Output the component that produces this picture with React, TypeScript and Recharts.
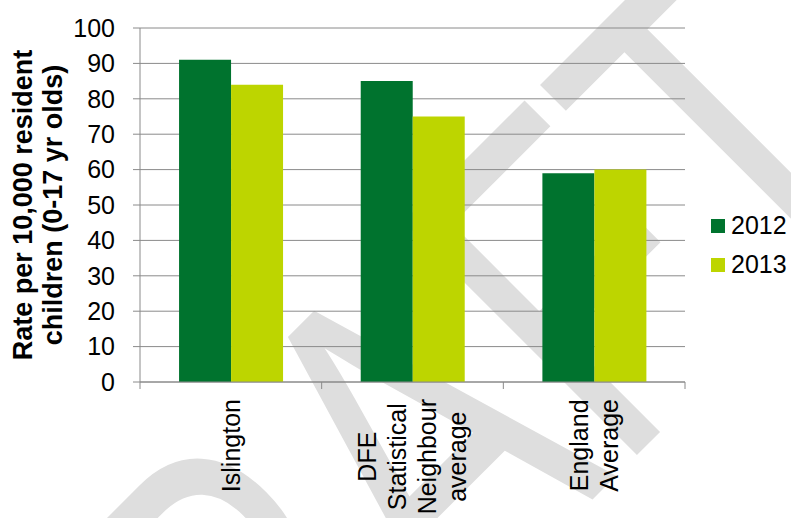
import React from "react";
import { BarChart, Bar, XAxis, YAxis, CartesianGrid, Legend } from "recharts";

const CATEGORIES = ["Islington", "DFE Statistical Neighbour average", "England Average"];
const LABEL_LINES = [["Islington"], ["DFE", "Statistical", "Neighbour", "average"], ["England", "Average"]];
const SERIES = ["2012", "2013"];
const VALUES_2012 = [91, 85, 59];
const VALUES_2013 = [84, 75, 60];
const Y_TICKS = [0, 10, 20, 30, 40, 50, 60, 70, 80, 90, 100];
const Y_LABEL = ["Rate per 10,000 resident", "children (0-17 yr olds)"];
const WATERMARK = "DRAFT";

const COLORS = ["#00732E", "#BDD500"];
const FONT = "'Liberation Sans', Arial, sans-serif";
const W = 791;
const H = 518;
const MARGIN = { top: 28, right: 106, bottom: 0, left: 0 };
const Y_AXIS_W = 140;
const X_AXIS_H = 136;
const AXIS_Y = H - X_AXIS_H;
const PLOT_W = W - MARGIN.left - MARGIN.right - Y_AXIS_W;
const GREY = "#8a8a8a";

const data = CATEGORIES.map((c, i) => ({
  name: c,
  "2012": VALUES_2012[i],
  "2013": VALUES_2013[i],
}));

let ctx: CanvasRenderingContext2D | null = null;
function textWidth(s: string, size: number) {
  if (!ctx) ctx = document.createElement("canvas").getContext("2d");
  if (!ctx) return s.length * size * 0.5;
  ctx.font = `${size}px 'Liberation Sans', Arial, sans-serif`;
  return ctx.measureText(s).width;
}

// category label, rotated, lines centred; tick marks sit on the category boundaries
function XTick(props: any) {
  const { x, payload, index } = props;
  const i = CATEGORIES.indexOf(payload.value);
  const lines = LABEL_LINES[i] ?? [String(payload.value)];
  const band = PLOT_W / CATEGORIES.length;
  const maxW = Math.max(...lines.map((l) => textWidth(l, 25)));
  const cy = AXIS_Y + 17 + maxW / 2;
  const lineH = 30;
  return (
    <g>
      <line x1={x - band / 2} x2={x - band / 2} y1={AXIS_Y} y2={AXIS_Y + 7} stroke={GREY} />
      {index === CATEGORIES.length - 1 && (
        <line x1={x + band / 2} x2={x + band / 2} y1={AXIS_Y} y2={AXIS_Y + 7} stroke={GREY} />
      )}
      {lines.map((l, k) => {
        const bx = x + (k - (lines.length - 1) / 2) * lineH + 9;
        return (
          <text
            key={k}
            x={bx}
            y={cy}
            transform={`rotate(-90 ${bx} ${cy})`}
            textAnchor="middle"
            fontSize={25}
            fontFamily={FONT}
            fill="#000"
          >
            {l}
          </text>
        );
      })}
    </g>
  );
}

function YLabel(props: any) {
  const vb = props.viewBox || { y: MARGIN.top, height: AXIS_Y - MARGIN.top };
  const cy = vb.y + vb.height / 2;
  return (
    <g>
      {Y_LABEL.map((l, k) => {
        const bx = 32 + k * 30;
        return (
          <text
            key={k}
            x={bx}
            y={cy}
            transform={`rotate(-90 ${bx} ${cy})`}
            textAnchor="middle"
            fontSize={27}
            fontWeight="bold"
            fontFamily={FONT}
            fill="#000"
          >
            {l}
          </text>
        );
      })}
    </g>
  );
}

function LegendBox(props: any) {
  const items = props.payload || [];
  return (
    <div style={{ fontFamily: FONT }}>
      {items.map((it: any) => (
        <div key={it.value} style={{ display: "flex", alignItems: "center", height: 39 }}>
          <span style={{ display: "inline-block", width: 14, height: 14, background: it.color, marginRight: 6 }} />
          <span style={{ fontSize: 25, color: "#000", lineHeight: "39px" }}>{it.value}</span>
        </div>
      ))}
    </div>
  );
}

export default function App() {
  return (
    <div style={{ position: "absolute", left: 0, top: 0, width: W, height: H, background: "#fff", overflow: "hidden" }}>
      {/* draft watermark sits behind the chart */}
      <svg width={W} height={H} style={{ position: "absolute", left: 0, top: 0 }}>
        <text
          x={0}
          y={0}
          transform="translate(93.5 998.5) rotate(-45) scale(0.73 1)"
          fontSize={480}
          fontFamily={FONT}
          fill="#dedede"
        >
          {WATERMARK}
        </text>
      </svg>
      <div style={{ position: "absolute", left: 0, top: 0 }}>
        <BarChart
          width={W}
          height={H}
          data={data}
          margin={MARGIN}
          barCategoryGap="21.5%"
          barGap={0}
          style={{ fontFamily: FONT }}
        >
          <CartesianGrid vertical={false} stroke={GREY} strokeWidth={1} />
          <XAxis
            dataKey="name"
            height={X_AXIS_H}
            interval={0}
            axisLine={{ stroke: GREY }}
            tickLine={false}
            tick={<XTick />}
          />
          <YAxis
            width={Y_AXIS_W}
            domain={[0, 100]}
            ticks={Y_TICKS}
            interval={0}
            axisLine={{ stroke: GREY }}
            tickLine={{ stroke: GREY }}
            tickSize={7}
            tickMargin={18}
            tick={{ fontSize: 25, fill: "#000", fontFamily: FONT }}
            label={{ content: <YLabel /> }}
          />
          <Legend
            layout="vertical"
            align="center"
            verticalAlign="middle"
            wrapperStyle={{ left: 711, top: 206, width: 80 }}
            content={<LegendBox />}
          />
          {SERIES.map((s, i) => (
            <Bar key={s} dataKey={s} fill={COLORS[i]} isAnimationActive={false} />
          ))}
        </BarChart>
      </div>
    </div>
  );
}
